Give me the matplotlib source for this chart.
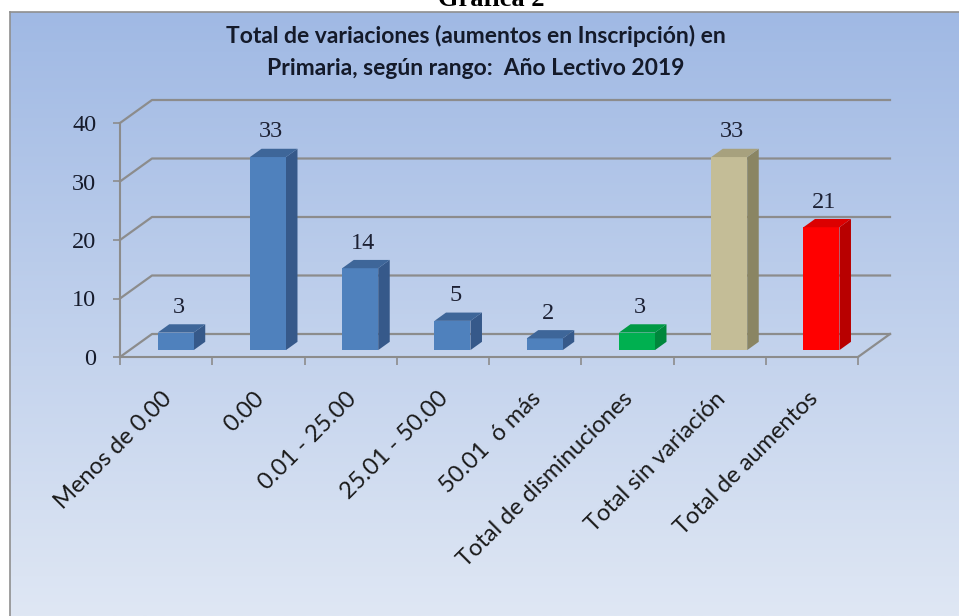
import numpy as np
import matplotlib.pyplot as plt
from matplotlib.patches import Polygon
from matplotlib.transforms import ScaledTranslation, IdentityTransform

# -----------------------------
# data
# -----------------------------
categories = ["Menos de 0.00", "0.00", "0.01 - 25.00", "25.01 - 50.00", "50.01  ó más",
              "Total de disminuciones", "Total sin variación", "Total de aumentos"]
values = [3, 33, 14, 5, 2, 3, 33, 21]
yticks = [0, 10, 20, 30, 40]

front_colors = ["#4f81bd"] * 5 + ["#00b050", "#c4bd97", "#ff0000"]
side_colors = ["#36598a"] * 5 + ["#00873c", "#8a8563", "#b80000"]
top_colors = ["#3e6699"] * 5 + ["#009a45", "#a7a17e", "#dc0000"]

title = "Total de variaciones (aumentos en Inscripción) en\nPrimaria, según rango:  Año Lectivo 2019"

W, H = 959, 616
fig = plt.figure(figsize=(W / 100, H / 100), dpi=100)
fig.patch.set_facecolor("white")

# -----------------------------
# frame with vertical gradient
# -----------------------------
bg = fig.add_axes([10 / W, 0, 1 - 10 / W, (H - 12) / H])
top = np.array([160, 185, 228]) / 255
bot = np.array([223, 231, 244]) / 255
t = np.linspace(0, 1, 256)[:, None, None]
bg.imshow(top + (bot - top) * t, aspect="auto", extent=[0, 1, 0, 1])
bg.set_xticks([])
bg.set_yticks([])
for s in ["right", "bottom"]:
    bg.spines[s].set_visible(False)
for s in ["left", "top"]:
    bg.spines[s].set_color("#8f8f8f")
    bg.spines[s].set_linewidth(1.2)

# heading of the page, cut by the top edge as in the source
fig.text(491 / W, 1 - 6 / H, "Gráfica 2", family="Liberation Serif", weight="bold",
         fontsize=19, ha="center", va="baseline")
fig.text(476 / W, 1 - 52 / H, title, family="Lato", weight="bold", fontsize=16.5,
         ha="center", va="center", linespacing=1.62, color="#141a2a")

# -----------------------------
# plot area (front plane)
# -----------------------------
ax = fig.add_axes([120 / W, (H - 357) / H, 738 / W, 234 / H])
ax.set_xlim(-0.5, 7.5)
ax.set_ylim(0, 40)
ax.patch.set_alpha(0)
grey = "#8c8c8c"
for s in ["top", "right"]:
    ax.spines[s].set_visible(False)
for s in ["left", "bottom"]:
    ax.spines[s].set_color(grey)
    ax.spines[s].set_linewidth(1.5)

ax.set_yticks(yticks)
ax.set_yticklabels([str(v) for v in yticks], family="Liberation Serif",
                   fontsize=17.5, color="#161b2b")
ax.tick_params(axis="y", length=5, width=1.2, color=grey, pad=12)
ax.set_xticks(np.arange(-0.5, 8, 1))
ax.tick_params(axis="x", length=6, width=1.2, color=grey, labelbottom=False)

DX, DY = 32, 23          # depth of the box, pixels
d0, d1 = 0.30, 0.66      # bar front / back depth
bw = 0.39


def pt(x, v, d):
    return ax.transData.transform((x, v)) + d * np.array([DX, DY])


def shift(px, py):
    return ScaledTranslation(px / 100, py / 100, fig.dpi_scale_trans)


# back wall gridlines + side wall diagonals
for v in yticks:
    p = np.array([pt(-0.5, v, 0), pt(-0.5, v, 1), pt(7.5, v, 1)])
    ax.plot(p[:, 0], p[:, 1], color=grey, lw=1.6, transform=IdentityTransform(),
            clip_on=False, zorder=1)
p = np.array([pt(7.5, 0, 0), pt(7.5, 0, 1)])
ax.plot(p[:, 0], p[:, 1], color=grey, lw=1.6, transform=IdentityTransform(),
        clip_on=False, zorder=1)

# bars
x = np.arange(len(values))
ax.bar(x, values, width=bw, color=front_colors, zorder=3, clip_on=False,
       transform=ax.transData + shift(d0 * DX, d0 * DY))
for i, v in enumerate(values):
    x0, x1 = i - bw / 2, i + bw / 2
    side = [pt(x1, 0, d0), pt(x1, 0, d1), pt(x1, v, d1), pt(x1, v, d0)]
    topf = [pt(x0, v, d0), pt(x1, v, d0), pt(x1, v, d1), pt(x0, v, d1)]
    ax.add_patch(Polygon(side, closed=True, facecolor=side_colors[i], edgecolor="none",
                         transform=IdentityTransform(), clip_on=False, zorder=2))
    ax.add_patch(Polygon(topf, closed=True, facecolor=top_colors[i], edgecolor="none",
                         transform=IdentityTransform(), clip_on=False, zorder=4))
    ax.text(i, v, str(v), ha="center", va="center", fontsize=17.5,
            family="Liberation Serif", color="#1c2033",
            transform=ax.transData + shift(d0 * DX + 3, 0.48 * DY + 21))

# category labels
for i, c in enumerate(categories):
    ax.text(i, 0, c, rotation=45, rotation_mode="anchor", ha="right", va="top",
            fontsize=17, family="Lato", color="#1a1a1a",
            transform=ax.transData + shift(-5, -31))

fig.savefig("out.png", dpi=100)
